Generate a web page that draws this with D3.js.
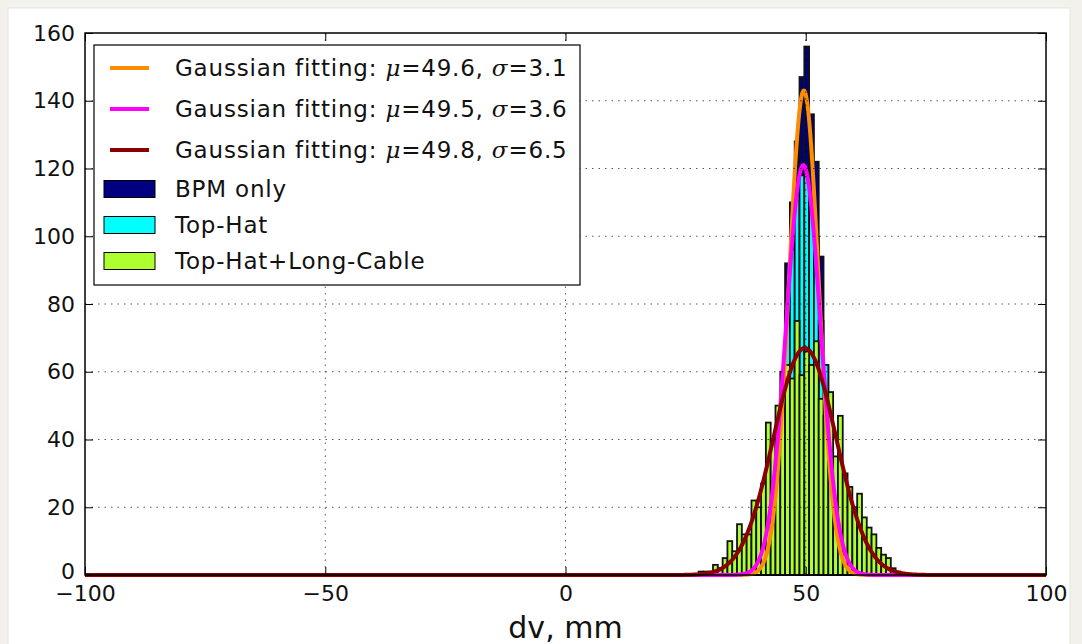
<!DOCTYPE html>
<html>
<head>
<meta charset="utf-8">
<script src="https://cdn.jsdelivr.net/npm/d3@7"></script>
<style>
  html, body { margin: 0; padding: 0; background: #f3f1ec; }
  svg { display: block; }
  text { font-family: "DejaVu Sans", sans-serif; fill: #111; }
</style>
</head>
<body>
<svg id="chart" width="1082" height="644"></svg>
<script>
// Histogram bins: left edge of the first bin and common bin width (mm)
const binStart = 26.7;
const binWidth = 1;

// Counts per bin, aligned with binStart + i * binWidth
const bpmOnly = [0, 0, 0, 0, 0, 0, 0, 0, 0, 0, 0, 0, 1, 1, 2, 5, 10, 20, 45, 92, 110, 128,
  147, 156, 136, 122, 94, 62, 38, 20, 10, 5, 2, 1, 0, 0, 0, 0, 0, 0, 0, 0, 0, 0];
const topHat = [0, 0, 0, 0, 0, 0, 0, 0, 0, 0, 0, 1, 2, 4, 8, 15, 27, 40, 60, 78, 96, 112,
  118, 119, 110, 100, 75, 62, 36, 22, 12, 6, 3, 1, 0, 0, 0, 0, 0, 0, 0, 0, 0, 0];
const longCable = [0, 1, 1, 1, 3, 2, 5, 10, 7, 15, 12, 12, 22, 20, 27, 45, 40, 50, 49, 62, 58, 75,
  59, 66, 62, 69, 52, 47, 54, 35, 47, 30, 26, 20, 24, 17, 14, 12, 8, 6, 5, 2, 1, 0];

// Gaussian fit results (mean, width, peak height in counts)
const fitMu = [49.6, 49.5, 49.8];
const fitSigma = [3.1, 3.6, 6.5];
const fitPeak = [143, 121, 67];
const fitColors = ["#ff8c00", "#ff00ff", "#8b0000"];

const seriesNames = ["BPM only", "Top-Hat", "Top-Hat+Long-Cable"];
const seriesColors = ["#000080", "#00ffff", "#adff2f"];

const xTicks = [-100, -50, 0, 50, 100];
const yTicks = [0, 20, 40, 60, 80, 100, 120, 140, 160];
const xLabel = "dv, mm";

const svg = d3.select("#chart");

// white card on the page background
svg.append("rect")
  .attr("x", 8).attr("y", 8).attr("width", 1062).attr("height", 650)
  .attr("fill", "#ffffff")
  .attr("stroke", "#e6e3dd").attr("stroke-width", 1);

const pLeft = 85, pRight = 1046, pTop = 33, pBottom = 575;
const x = d3.scaleLinear().domain([-100, 100]).range([pLeft, pRight]);
const y = d3.scaleLinear().domain([0, 160]).range([pBottom, pTop]);

const plot = svg.append("g");
plot.append("rect")
  .attr("x", pLeft).attr("y", pTop)
  .attr("width", pRight - pLeft).attr("height", pBottom - pTop)
  .attr("fill", "#ffffff");

// histogram bars, drawn in series order so later series sit on top
[bpmOnly, topHat, longCable].forEach((counts, s) => {
  const bins = counts.map((c, i) => ({ x0: binStart + i * binWidth, x1: binStart + (i + 1) * binWidth, c }))
    .filter(d => d.c > 0);
  plot.append("g")
    .selectAll("rect")
    .data(bins)
    .join("rect")
    .attr("x", d => x(d.x0))
    .attr("width", d => x(d.x1) - x(d.x0))
    .attr("y", d => y(d.c))
    .attr("height", d => y(0) - y(d.c))
    .attr("fill", seriesColors[s])
    .attr("stroke", "#111")
    .attr("stroke-width", 1.8);
});

// Gaussian fit curves
const xs = d3.range(-100, 100.001, 0.1);
const line = d3.line().x(d => x(d[0])).y(d => y(d[1]));
fitMu.forEach((mu, k) => {
  const pts = xs.map(v => [v, fitPeak[k] * Math.exp(-((v - mu) ** 2) / (2 * fitSigma[k] ** 2))]);
  plot.append("path")
    .datum(pts)
    .attr("d", line)
    .attr("fill", "none")
    .attr("stroke", fitColors[k])
    .attr("stroke-width", 4)
    .attr("stroke-linejoin", "round");
});

// dotted grid on top of the data
const grid = svg.append("g")
  .attr("stroke", "#000").attr("stroke-opacity", 0.65)
  .attr("stroke-width", 1).attr("stroke-dasharray", "1.5,5");
grid.selectAll("line.gx").data(xTicks.slice(1, -1)).join("line")
  .attr("x1", d => x(d)).attr("x2", d => x(d)).attr("y1", pTop).attr("y2", pBottom);
grid.selectAll("line.gy").data(yTicks.slice(1, -1)).join("line")
  .attr("y1", d => y(d)).attr("y2", d => y(d)).attr("x1", pLeft).attr("x2", pRight);

// axes: labels outside, inward ticks on all four sides
const fmt = d => String(d).replace("-", "\u2212");
const axB = svg.append("g").attr("transform", `translate(0,${pBottom})`)
  .call(d3.axisBottom(x).tickValues(xTicks).tickSizeInner(-8).tickSizeOuter(0).tickPadding(10).tickFormat(fmt));
const axT = svg.append("g").attr("transform", `translate(0,${pTop})`)
  .call(d3.axisTop(x).tickValues(xTicks).tickSizeInner(-8).tickSizeOuter(0).tickFormat(""));
const axL = svg.append("g").attr("transform", `translate(${pLeft},0)`)
  .call(d3.axisLeft(y).tickValues(yTicks).tickSizeInner(-8).tickSizeOuter(0).tickPadding(10).tickFormat(fmt));
const axR = svg.append("g").attr("transform", `translate(${pRight},0)`)
  .call(d3.axisRight(y).tickValues(yTicks).tickSizeInner(-8).tickSizeOuter(0).tickFormat(""));
[axB, axT, axL, axR].forEach(a => {
  a.select(".domain").remove();
  a.selectAll(".tick line").attr("stroke", "#000").attr("stroke-width", 1);
  a.selectAll("text").attr("font-family", "DejaVu Sans").attr("font-size", 22).attr("fill", "#111");
});
// the zero label sits a little higher, clear of the x tick labels
axL.selectAll(".tick").filter(d => d === 0).select("text").attr("dy", "0.18em");

svg.append("rect")
  .attr("x", pLeft).attr("y", pTop)
  .attr("width", pRight - pLeft).attr("height", pBottom - pTop)
  .attr("fill", "none").attr("stroke", "#000").attr("stroke-width", 1.5);

svg.append("text")
  .attr("x", x(0)).attr("y", 638)
  .attr("text-anchor", "middle")
  .attr("font-size", 30)
  .text(xLabel);

// legend
const legend = svg.append("g");
legend.append("rect")
  .attr("x", 94).attr("y", 45).attr("width", 486).attr("height", 240)
  .attr("fill", "#fff").attr("stroke", "#000").attr("stroke-width", 1.2);

const lineRows = [68, 109, 150];
fitMu.forEach((mu, k) => {
  const ry = lineRows[k];
  legend.append("line")
    .attr("x1", 110).attr("x2", 149).attr("y1", ry).attr("y2", ry)
    .attr("stroke", fitColors[k]).attr("stroke-width", 4);
  const t = legend.append("text")
    .attr("x", 175).attr("y", ry).attr("dy", "0.36em")
    .attr("font-size", 23).attr("letter-spacing", 0.8);
  t.append("tspan").text("Gaussian fitting: ");
  t.append("tspan").attr("font-family", "DejaVu Serif").attr("font-style", "italic").text("\u03bc");
  t.append("tspan").text("=" + mu.toFixed(1) + ", ");
  t.append("tspan").attr("font-family", "DejaVu Serif").attr("font-style", "italic").text("\u03c3");
  t.append("tspan").text("=" + fitSigma[k].toFixed(1));
});

const patchRows = [189, 225, 261];
seriesNames.forEach((name, s) => {
  const ry = patchRows[s];
  legend.append("rect")
    .attr("x", 104).attr("y", ry - 8.5).attr("width", 51).attr("height", 17)
    .attr("fill", seriesColors[s]).attr("stroke", "#000").attr("stroke-width", 1);
  legend.append("text")
    .attr("x", 175).attr("y", ry).attr("dy", "0.36em")
    .attr("font-size", 23).attr("letter-spacing", 0.8)
    .text(name);
});
</script>
</body>
</html>
